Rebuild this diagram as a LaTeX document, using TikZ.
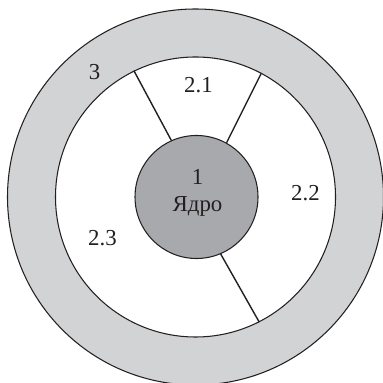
\documentclass[tikz,border=0pt]{standalone}
\usepackage{fontspec}
\setmainfont{Liberation Serif}
\usepackage{tikz}
\definecolor{ringgray}{HTML}{D1D3D4}
\definecolor{coregray}{HTML}{A7A9AC}
\definecolor{inkline}{HTML}{231F20}
\tikzset{
  ringnode/.style={circle,draw=inkline,line width=0.6pt,inner sep=0pt},
  spoke/.style={draw=inkline,line width=0.8pt},
  label/.style={font=\fontsize{13}{15.5}\selectfont,text=inkline,align=center,inner sep=0pt}
}
\begin{document}
\begin{tikzpicture}
  \useasboundingbox (-3.91,-3.72) rectangle (3.75,3.94);

  \node[ringnode,fill=ringgray,minimum size=7.52cm] (outer) at (0,0) {};
  \node[ringnode,fill=white,minimum size=5.6cm] (inner) at (0,0) {};
  \node[ringnode,fill=coregray,minimum size=2.46cm] (core) at (0.02,0) {};

  % spokes
  \draw[spoke] (core.114) -- (inner.116);
  \draw[spoke] (core.61) -- (inner.62);
  \draw[spoke] (core.-67) -- (inner.-63);

  % texts
  \node[label] (kern) at (0.04,0.08) {1\\Ядро};
  \node[label] (l3) at (-2.02,2.50) {3};
  \node[label] (l21) at (0.06,2.24) {2.1};
  \node[label] (l22) at (2.20,0.08) {2.2};
  \node[label] (l23) at (-1.86,-0.82) {2.3};
\end{tikzpicture}
\end{document}
